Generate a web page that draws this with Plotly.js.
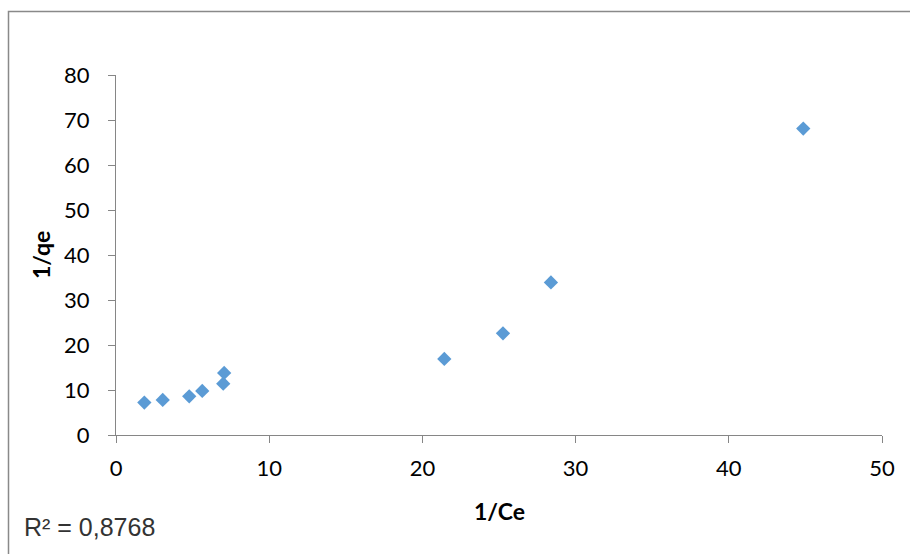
<!DOCTYPE html>
<html>
<head>
<meta charset="utf-8">
<script src="https://cdn.plot.ly/plotly-3.0.1.min.js"></script>
<style>html,body{margin:0;padding:0;background:#fff;}#chart{width:910px;height:554px;}</style>
</head>
<body>
<div id="chart"></div>
<script>
const invCe = [1.85, 3.05, 4.78, 5.63, 7.0, 7.06, 21.43, 25.26, 28.39, 44.86];
const invQe = [7.2, 7.8, 8.6, 9.8, 11.4, 13.8, 16.9, 22.6, 33.9, 68.1];
const xTitle = '1/Ce';
const yTitle = '1/qe';
const r2Text = 'R² = 0,8768';

const L = 116, R = 882, T = 75, B = 435, W = 910, H = 554;
const px = v => (v - L) / (R - L);
const py = v => (B - v) / (B - T);

const trace = {
  x: invCe, y: invQe, type: 'scatter', mode: 'markers',
  marker: {symbol: 'diamond', size: 11, color: '#5B9BD5', line: {width: 0}},
  hoverinfo: 'x+y'
};

const axisCommon = {
  showgrid: false, zeroline: false, showline: true,
  linecolor: '#868686', linewidth: 1,
  ticks: 'outside', ticklen: 7, tickcolor: '#868686', tickwidth: 1,
  tickfont: {family: 'Lato, "Open Sans", sans-serif', size: 22, color: '#000'},
  fixedrange: true
};

const layout = {
  width: W, height: H,
  margin: {l: L, r: W - R, t: T, b: H - B},
  paper_bgcolor: '#fff', plot_bgcolor: '#fff',
  showlegend: false,
  xaxis: Object.assign({}, axisCommon, {range: [0, 50], dtick: 10, tick0: 0, ticklabelstandoff: 7}),
  yaxis: Object.assign({}, axisCommon, {range: [0, 80], dtick: 10, tick0: 0, ticklabelstandoff: 14}),
  shapes: [{
    type: 'rect', xref: 'paper', yref: 'paper',
    x0: px(8.5), x1: px(930), y0: py(570), y1: py(11.5),
    line: {color: '#898989', width: 1.5}, fillcolor: 'rgba(0,0,0,0)', layer: 'below'
  }],
  annotations: [
    {text: '<b>' + xTitle + '</b>', xref: 'paper', yref: 'paper', x: px(499), y: py(511),
     xanchor: 'center', yanchor: 'middle', showarrow: false,
     font: {family: 'Lato, "Open Sans", sans-serif', size: 23, color: '#000'}},
    {text: '<b>' + yTitle + '</b>', xref: 'paper', yref: 'paper', x: px(41), y: py(255),
     xanchor: 'center', yanchor: 'middle', showarrow: false, textangle: -90,
     font: {family: 'Lato, "Open Sans", sans-serif', size: 23, color: '#000'}},
    {text: r2Text, xref: 'paper', yref: 'paper', x: px(22), y: py(527),
     xanchor: 'left', yanchor: 'middle', showarrow: false,
     font: {family: '"Liberation Sans", Arial, sans-serif', size: 25, color: '#333'}}
  ]
};

Plotly.newPlot('chart', [trace], layout, {displayModeBar: false, staticPlot: true});
</script>
</body>
</html>
